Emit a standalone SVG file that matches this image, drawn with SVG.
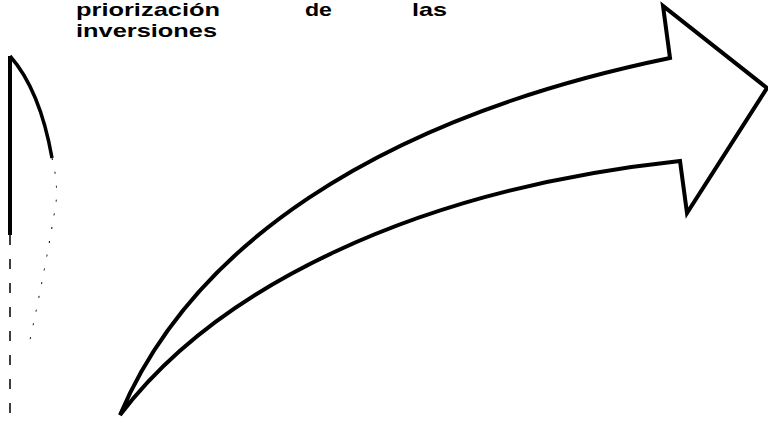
<svg xmlns="http://www.w3.org/2000/svg" width="768" height="426" viewBox="0 0 768 426">
  <style>
    .t { font-family: "Liberation Sans", Arial, sans-serif; font-weight: bold; font-size: 19px; fill: #000; }
    .outline { fill: #fff; stroke: #000; stroke-width: 4; stroke-linejoin: miter; }
  </style>
  <rect width="768" height="426" fill="#fff"/>
  <g id="caption">
    <text class="t" x="76" y="16" textLength="144" lengthAdjust="spacingAndGlyphs">priorización</text>
    <text class="t" x="305" y="16" textLength="27" lengthAdjust="spacingAndGlyphs">de</text>
    <text class="t" x="412" y="16" textLength="35" lengthAdjust="spacingAndGlyphs">las</text>
    <text class="t" x="76" y="37" textLength="141" lengthAdjust="spacingAndGlyphs">inversiones</text>
  </g>
  <g id="left-shape" fill="none" stroke="#000">
    <path d="M10,56 L10,235" stroke-width="4"/>
    <path d="M10,235 L10,420" stroke-width="1.5" stroke-dasharray="10 14"/>
    <path d="M10,56 Q40,90 52,158" stroke-width="3.5"/>
    <path d="M52,158 Q60,190 54,215 Q45,270 30,340" stroke-width="1" stroke-dasharray="2 12"/>
  </g>
  <g id="curved-arrow">
    <path class="outline" d="M120,415 C190,250 370,120 670,58 L663,6 L767,88 L687,213 L680,161 C410,190 215,290 120,415 Z"/>
  </g>
</svg>
